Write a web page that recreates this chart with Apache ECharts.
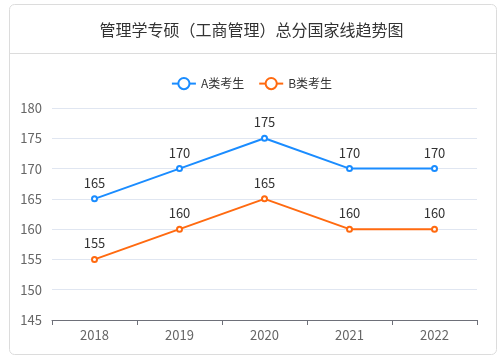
<!DOCTYPE html>
<html><head><meta charset="utf-8">
<script src="https://cdn.jsdelivr.net/npm/echarts@6/dist/echarts.min.js"></script>
<style>html,body{margin:0;padding:0;background:#fff}#c{width:503px;height:361px}</style>
</head><body><div id="c"></div>
<script>
const titleText = '管理学专硕（工商管理）总分国家线趋势图';
const years = ['2018','2019','2020','2021','2022'];
const seriesNames = ['A类考生','B类考生'];
const seriesA = [165,170,175,170,170];
const seriesB = [155,160,165,160,160];
const colors = ['#1a8cff','#ff6a10'];
const FONT = '"Noto Sans CJK SC", "Noto Sans", sans-serif';
const chart = echarts.init(document.getElementById('c'));
chart.setOption({
  animation:false,
  textStyle:{fontFamily:FONT},
  color:colors,
  graphic:[
    {type:'rect',shape:{x:9.5,y:4.5,width:487,height:350,r:5},style:{fill:'#fff',stroke:'#dcdcdc',lineWidth:1},z:-10},
    {type:'line',shape:{x1:10,y1:53.5,x2:496,y2:53.5},style:{stroke:'#dcdcdc',lineWidth:1},z:-5}
  ],
  title:{text:titleText,left:'center',top:17,textStyle:{fontSize:16,fontWeight:'normal',color:'#333',fontFamily:FONT}},
  legend:{data:seriesNames,top:72,left:'center',itemWidth:24,itemHeight:14,itemGap:14,
    textStyle:{color:'#333',fontSize:12,fontFamily:FONT}},
  grid:{left:52,right:26,top:108,bottom:41},
  xAxis:{type:'category',data:years,boundaryGap:true,
    axisLine:{lineStyle:{color:'#6E7079'}},axisTick:{show:true},
    axisLabel:{color:'#666',fontSize:13,margin:9}},
  yAxis:{type:'value',min:145,max:180,interval:5,
    axisLine:{show:false},axisTick:{show:false},
    axisLabel:{color:'#666',fontSize:13,margin:10},
    splitLine:{lineStyle:{color:'#E0E6F1'}}},
  series:[
    {name:seriesNames[0],type:'line',data:seriesA,symbol:'emptyCircle',symbolSize:5,
      lineStyle:{width:2},label:{show:true,position:'top',color:'#333',fontSize:13,distance:6}},
    {name:seriesNames[1],type:'line',data:seriesB,symbol:'emptyCircle',symbolSize:5,
      lineStyle:{width:2},label:{show:true,position:'top',color:'#333',fontSize:13,distance:6}}
  ]
});
</script></body></html>
